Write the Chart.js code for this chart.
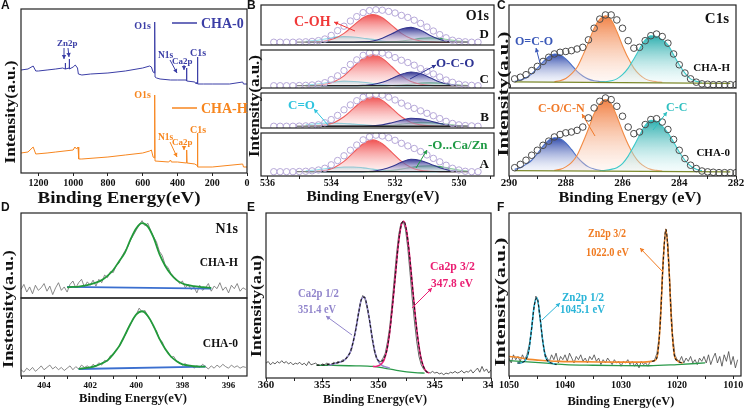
<!DOCTYPE html>
<html>
<head>
<meta charset="utf-8">
<script src="https://cdn.jsdelivr.net/npm/chart.js@4.4.1/dist/chart.umd.min.js"></script>
<style>
  html, body { margin: 0; padding: 0; background: #fff; }
  #wrap { position: relative; width: 745px; height: 408px; overflow: hidden; background: #fff; }
  .box { position: absolute; overflow: hidden; }
  #ov { position: absolute; left: 0; top: 0; z-index: 5; }
</style>
</head>
<body>
<div id="wrap">
  <svg id="ov" width="745" height="408" xmlns="http://www.w3.org/2000/svg"></svg>
</div>
<script>
const SERIF = '"Liberation Serif", "Times New Roman", serif';
const SANS = '"Liberation Sans", Arial, sans-serif';

// ---------- A: survey spectra ----------
const SURV_E_0 = [1300,1260,1230,1215,1200,1150,1100,1060,1046,1045,1044,1023,1022,1021,1000,988,975,970,950,900,800,700,600,560,550,540,533,531,529,520,500,440,400,350,348,346,300,292,287,285,283,250,200,100,25,20,0];
const SURV_0   = [103,104,107,102,102,103,104,105,104,110,104,105,114,104,106,108,105,99,98,99,100,102,105,107,106,101,100,151,96,95,94,93,93,93,105,92,91,89,91,116,89,89,89,89,91,89,89];
const SURV_E_H = [1300,1260,1230,1215,1150,1100,1000,990,980,972,968,950,800,700,600,560,550,540,533,531,529,450,440,435,400,349,347,345,300,292,287,285,283,200,25,20,0];
const SURV_H   = [20,21,26,19,20,21,23,26,24,26,14,14,16,18,20,22,23,16,15,78,12,11,13,11,11,10,23,10,9,8,8,40,6,6,9,6,6];
const A_TICKS = [1200,1000,800,600,400,200,0];

// ---------- B: O1s, four samples (D, C, B, A from top) ----------
const O1S_G = [534.8,534.5,534.2,533.9,533.6,533.3,533.0,532.7,532.4,532.1,531.8,531.5,531.2,530.9,530.6,530.3,530.0,529.7];
const O1S_ENV_E = [535.8,535.6,535.4,535.2,535.0,534.8,534.6,534.4,534.2,534.0,533.8,533.6,533.4,533.2,533.0,532.8,532.6,532.4,532.2,532.0,531.8,531.6,531.4,531.2,531.0,530.8,530.6,530.4,530.2,530.0,529.8,529.6,529.4];
const O1S_BASE_E = [535.1, 529.7];
const O1S_BASE = [0.07, 0.06, 0.05, 0.10];

const ENV_D = [.07,.07,.07,.07,.075,.08,.09,.11,.15,.24,.36,.47,.60,.71,.81,.86,.88,.87,.84,.80,.74,.69,.62,.54,.45,.35,.26,.18,.12,.09,.08,.07,.07];
const RED_D = [.07,.078,.10,.16,.29,.49,.68,.76,.68,.49,.29,.16,.10,.078,.07,.07,.07,.07];
const NAVY_D = [.07,.07,.07,.07,.07,.07,.08,.10,.17,.28,.40,.44,.37,.24,.14,.09,.075,.07];
const CYAN_D = [.09,.11,.15,.19,.21,.20,.17,.14,.10,.08,.07,.07,.07,.07,.07,.07,.07,.07];
const GREEN_D = [.07,.07,.07,.07,.07,.07,.07,.07,.07,.08,.10,.13,.165,.18,.165,.13,.10,.08];

const ENV_C = [.06,.06,.06,.06,.065,.07,.08,.10,.14,.22,.32,.46,.62,.74,.86,.92,.94,.92,.87,.80,.73,.67,.60,.51,.44,.37,.29,.21,.15,.10,.08,.07,.06];
const RED_C = [.06,.07,.10,.17,.32,.56,.78,.88,.78,.56,.32,.17,.10,.07,.06,.06,.06,.06];
const NAVY_C = [.06,.06,.06,.06,.06,.06,.07,.09,.15,.25,.36,.42,.38,.27,.16,.10,.07,.06];
const CYAN_C = [.08,.10,.13,.16,.18,.17,.15,.12,.09,.07,.06,.06,.06,.06,.06,.06,.06,.06];
const GREEN_C = [.06,.06,.06,.06,.06,.06,.06,.06,.06,.065,.08,.10,.13,.14,.13,.10,.08,.065];

const ENV_B = [.05,.05,.05,.05,.055,.06,.07,.09,.15,.24,.36,.52,.66,.78,.88,.94,.96,.94,.88,.80,.71,.63,.56,.49,.42,.35,.27,.19,.13,.09,.07,.06,.05];
const RED_B = [.05,.06,.09,.16,.32,.56,.79,.89,.79,.56,.32,.16,.09,.06,.05,.05,.05,.05];
const NAVY_B = [.05,.05,.05,.05,.05,.05,.05,.06,.09,.15,.22,.28,.26,.20,.13,.08,.06,.05];
const CYAN_B = [.09,.12,.14,.14,.13,.11,.09,.07,.06,.05,.05,.05,.05,.05,.05,.05,.05,.05];
const GREEN_B = [.05,.05,.05,.05,.05,.05,.05,.05,.06,.08,.11,.14,.16,.155,.13,.10,.07,.055];

const ENV_A = [.10,.10,.10,.10,.105,.11,.12,.14,.18,.26,.36,.47,.60,.72,.84,.91,.95,.93,.89,.83,.76,.70,.64,.57,.49,.41,.33,.25,.18,.14,.11,.10,.10];
const RED_A = [.10,.11,.13,.20,.34,.55,.75,.84,.75,.55,.34,.20,.13,.11,.10,.10,.10,.10];
const NAVY_A = [.10,.10,.10,.10,.10,.10,.10,.11,.15,.22,.32,.39,.36,.28,.19,.13,.11,.10];
const CYAN_A = [.12,.14,.17,.19,.21,.21,.19,.16,.13,.11,.10,.10,.10,.10,.10,.10,.10,.10];
const GREEN_A = [.10,.10,.10,.10,.10,.10,.10,.10,.11,.13,.16,.20,.23,.24,.22,.18,.14,.11];

const B_TICKS = [536,535,534,533,532,531,530,529];
const B_LABELS = [536,534,532,530];

// ---------- C: C1s ----------
const C1S_ENV_E = [289.8,289.6,289.4,289.2,289.0,288.8,288.6,288.4,288.2,288.0,287.8,287.6,287.4,287.2,287.0,286.8,286.6,286.4,286.2,286.0,285.8,285.6,285.4,285.2,285.0,284.8,284.6,284.4,284.2,284.0,283.8,283.6,283.4,283.2,283.0,282.8,282.6,282.4,282.2,282.0];
const ENV_H = [.11,.13,.16,.21,.26,.32,.37,.41,.43,.44,.45,.47,.49,.58,.72,.83,.88,.88,.82,.72,.57,.48,.49,.57,.63,.65,.62,.54,.41,.28,.18,.11,.07,.05,.045,.04,.04,.04,.04,.04];
const ENV_0 = [.10,.14,.19,.25,.31,.37,.42,.47,.50,.52,.53,.55,.59,.70,.82,.90,.94,.92,.84,.72,.59,.51,.53,.62,.68,.69,.65,.56,.44,.31,.21,.13,.09,.06,.05,.045,.04,.04,.04,.04];
const NAVY_C1S_E = [289.8,289.6,289.4,289.2,289.0,288.8,288.6,288.4,288.2,288.0,287.8,287.6,287.4,287.2,287.0,286.8,286.6];
const ORANGE_C1S_E = [288.4,288.2,288.0,287.8,287.6,287.4,287.2,287.0,286.8,286.6,286.4,286.2,286.0,285.8,285.6,285.4,285.2,285.0,284.8,284.6];
const CYAN_C1S_E = [286.8,286.6,286.4,286.2,286.0,285.8,285.6,285.4,285.2,285.0,284.8,284.6,284.4,284.2,284.0,283.8,283.6,283.4,283.2];
const NAVY_H = [.08,.096,.124,.17,.24,.315,.38,.41,.40,.35,.28,.20,.145,.107,.087,.078,.072];
const ORANGE_H = [.076,.088,.115,.17,.25,.39,.55,.72,.83,.87,.82,.68,.51,.36,.24,.16,.11,.087,.076,.07];
const CYAN_H = [.073,.076,.087,.11,.16,.24,.35,.47,.58,.63,.62,.58,.52,.40,.28,.18,.11,.08,.07];
const NAVY_0 = [.08,.10,.14,.19,.27,.36,.43,.46,.45,.40,.32,.23,.16,.11,.085,.07,.063];
const ORANGE_0 = [.068,.08,.11,.16,.25,.40,.57,.75,.87,.92,.87,.72,.54,.38,.25,.16,.11,.08,.068,.06];
const CYAN_0 = [.065,.07,.08,.10,.15,.24,.36,.49,.61,.67,.66,.60,.52,.41,.29,.19,.12,.08,.065];
const C1S_BASE_E = [289.8, 282.2];
const C1S_BASE_H = [.075, .055];
const C1S_BASE_0 = [.065, .05];
const C_TICKS = [290,289,288,287,286,285,284,283,282];
const C_LABELS = [290,288,286,284,282];

// ---------- D: N1s ----------
const N1S_START = 405.0, N1S_STEP = -0.125;
const N1S_RAW_H = [.10,.16,.07,.13,.05,.15,.09,.12,.17,.08,
  .14,.04,.12,.18,.09,.13,.07,.16,.20,.12,
  .18,.22,.13,.19,.15,.21,.14,.22,.18,.27,
  .24,.31,.30,.38,.41,.49,.55,.60,.68,.74,
  .80,.86,.91,.85,.88,.79,.72,.66,.55,.50,
  .39,.36,.29,.25,.22,.17,.20,.12,.16,.10,
  .13,.06,.15,.09,.12,.17,.08,.14,.11,.18,
  .09,.13,.06,.15,.11,.17,.08,.12,.10];
const N1S_RAW_0 = [.08,.05,.10,.07,.11,.06,.09,.13,.08,.11,
  .14,.09,.12,.08,.11,.07,.10,.13,.08,.12,
  .09,.14,.11,.13,.10,.15,.12,.17,.14,.20,
  .19,.26,.27,.34,.37,.45,.51,.60,.66,.74,
  .79,.87,.82,.84,.76,.71,.63,.58,.47,.44,
  .34,.31,.24,.25,.19,.17,.14,.16,.12,.14,
  .10,.13,.11,.15,.12,.09,.13,.10,.14,.11,
  .15,.12,.10,.14,.11,.13,.10,.12,.11];
const N1S_FIT_H_E = [403.0,402.75,402.5,402.25,402.0,401.75,401.5,401.25,401.0,400.75,400.5,400.25,400.0,399.75,399.5,399.25,399.0,398.75,398.5,398.25,398.0,397.75,397.5,397.25,397.0,396.75];
const N1S_FIT_H = [.125,.13,.135,.145,.16,.18,.21,.26,.33,.43,.53,.69,.82,.88,.84,.71,.52,.38,.28,.21,.17,.15,.14,.13,.125,.12];
const N1S_FIT_0_E = [402.5,402.25,402.0,401.75,401.5,401.25,401.0,400.75,400.5,400.25,400.0,399.75,399.5,399.25,399.0,398.75,398.5,398.25,398.0,397.75,397.5,397.25,397.0];
const N1S_FIT_0 = [.09,.10,.11,.13,.16,.20,.28,.38,.52,.67,.79,.83,.77,.64,.48,.35,.25,.19,.15,.135,.125,.12,.12];
const N1S_BL_H_E = [403.0, 396.75], N1S_BL_H = [.13, .11];
const N1S_BL_0_E = [402.5, 397.0], N1S_BL_0 = [.09, .12];
const D_TICKS = [405,404,403,402,401,400,399,398,397,396];
const D_LABELS = [404,402,400,398,396];

// ---------- E: Ca2p ----------
const CA_START = 360.0, CA_STEP = -0.2;
const CA_RAW = [.09,.10,.08,.095,.085,.10,.09,.105,.09,.10,
  .085,.095,.08,.09,.085,.095,.08,.09,.075,.10,
  .08,.085,.09,.08,.075,.085,.08,.09,.085,.08,
  .095,.09,.10,.095,.11,.11,.125,.14,.17,.23,
  .31,.39,.46,.50,.48,.42,.35,.25,.17,.12,
  .10,.10,.12,.15,.22,.31,.45,.60,.75,.87,
  .94,.95,.90,.79,.64,.48,.34,.22,.13,.08,
  .055,.04,.035,.03,.04,.03,.035,.025,.03,.02,
  .03,.025,.035,.03,.04,.03,.035,.045,.03,.04,
  .035,.05,.03,.045,.06,.035,.07,.04,.055,.03,
  .05];
const CA12_E = [354.5,354.25,354.0,353.75,353.5,353.25,353.0,352.75,352.5,352.25,352.0,351.75,351.5,351.25,351.0,350.75,350.5,350.25,350.0,349.75,349.5,349.25,349.0];
const CA12 = [.08,.08,.085,.09,.095,.10,.11,.13,.16,.22,.30,.40,.48,.49,.43,.33,.22,.14,.10,.08,.07,.065,.06];
const CA32_E = [350.5,350.25,350.0,349.75,349.5,349.25,349.0,348.75,348.5,348.25,348.0,347.75,347.5,347.25,347.0,346.75,346.5,346.25,346.0,345.75,345.5];
const CA32 = [.07,.07,.075,.085,.11,.17,.28,.44,.62,.80,.92,.95,.89,.75,.57,.39,.24,.13,.07,.04,.03];
const CA_ENV_E = [355.5,355.25,355.0,354.75,354.5,354.25,354.0,353.75,353.5,353.25,353.0,352.75,352.5,352.25,352.0,351.75,351.5,351.25,351.0,350.75,350.5,350.25,350.0,349.75,349.5,349.25,349.0,348.75,348.5,348.25,348.0,347.75,347.5,347.25,347.0,346.75,346.5,346.25,346.0,345.75,345.5];
const CA_ENV = [.078,.078,.079,.08,.082,.084,.087,.09,.095,.10,.11,.13,.16,.22,.30,.40,.48,.49,.43,.33,.22,.14,.105,.10,.12,.17,.28,.44,.62,.80,.92,.95,.89,.75,.57,.39,.24,.13,.07,.04,.03];
const CA_BG_E = [355.5,354,352,350.5,349.5,348.5,347.5,346.5,345.9];
const CA_BG = [.077,.076,.074,.07,.06,.048,.037,.031,.03];
const E_TICKS = [360,357.5,355,352.5,350,347.5,345,342.5,340];
const E_LABELS = [360,355,350,345,340];

// ---------- F: Zn2p ----------
const ZN_START = 1050.0, ZN_STEP = -0.4;
const ZN_RAW = [.11,.08,.13,.10,.12,.09,.13,.10,.13,.19,
  .28,.41,.49,.45,.34,.22,.14,.11,.09,.13,
  .10,.14,.08,.12,.10,.13,.09,.14,.11,.08,
  .12,.10,.13,.09,.11,.08,.12,.10,.13,.09,
  .11,.07,.10,.08,.11,.09,.07,.10,.08,.09,
  .06,.09,.08,.10,.07,.09,.06,.08,.05,.09,
  .07,.08,.06,.09,.09,.10,.14,.24,.50,.78,
  .90,.80,.50,.25,.13,.10,.09,.12,.08,.11,
  .09,.12,.08,.10,.07,.11,.09,.12,.08,.13,
  .07,.11,.14,.08,.12,.06,.13,.09,.15,.07,
  .12,.05,.10];
const ZN12_E = [1048.5,1048,1047.5,1047,1046.5,1046,1045.5,1045,1044.5,1044,1043.5,1043,1042.5,1042,1041.5];
const ZN12 = [.08,.08,.085,.10,.15,.28,.43,.48,.37,.22,.12,.09,.08,.075,.07];
const ZN32_E = [1050,1048.5,1047,1044,1041,1038,1034,1030,1026,1024.5,1024,1023.5,1023,1022.5,1022,1021.5,1021,1020.5,1020,1019.5,1019];
const ZN32 = [.12,.115,.105,.095,.09,.088,.086,.085,.085,.09,.095,.13,.33,.69,.90,.69,.33,.13,.095,.085,.08];
const ZN_BG_E = [1050,1046,1042,1040,1035,1030,1025,1020,1015];
const ZN_BG = [.094,.085,.075,.07,.066,.064,.063,.07,.08];
const F_TICKS = [1050,1045,1040,1035,1030,1025,1020,1015,1010];
const F_LABELS = [1050,1040,1030,1020,1010];

// ---------- helpers ----------
function grid(start, step, n) { return Array.from({ length: n }, (_, i) => +(start + i * step).toFixed(3)); }
function pts(xs, ys) { return xs.map((x, i) => ({ x, y: ys[i] })); }

function grad(c1, c2, top, base) {
    return ctx => {
        const ch = ctx.chart;
        if (!ch.chartArea) return c2;
        const y = ch.scales.y;
        const g = ch.ctx.createLinearGradient(0, y.getPixelForValue(top), 0, y.getPixelForValue(base));
        g.addColorStop(0, c1);
        g.addColorStop(1, c2);
        return g;
    };
}

function ln(xs, ys, color, width, extra) {
    return Object.assign({ data: pts(xs, ys), borderColor: color, borderWidth: width, fill: false, pointRadius: 0 }, extra || {});
}
function peak(xs, ys, base, line, c1, c2) {
    return ln(xs, ys, line, 1.1, {
        fill: { value: base }, cubicInterpolationMode: 'monotone',
        backgroundColor: grad(c1, c2, Math.max(...ys), base),
    });
}
function circles(xs, ys, color, r, fillc) {
    return { data: pts(xs, ys), showLine: false, pointRadius: r, pointBorderWidth: 1, pointBorderColor: color, pointBackgroundColor: fillc };
}

const framePlugin = {
    id: 'frame',
    afterDatasetsDraw(ch) {
        const a = ch.chartArea, c = ch.ctx;
        c.save();
        c.strokeStyle = '#222';
        c.lineWidth = 1.2;
        c.strokeRect(a.left, a.top, a.right - a.left, a.bottom - a.top);
        c.restore();
    }
};

const PAD = 22, TOP = 3;
function panel(area, xr, yr, datasets, axis, clip) {
    const [l, t, r, b] = area;
    const bot = axis ? axis.h : 2;
    const w = r - l + 2 * PAD, h = b - t + TOP + bot;
    const box = document.createElement('div');
    box.className = 'box';
    box.style.cssText = `left:${l - PAD}px;top:${t - TOP}px;width:${clip ? (r - l + PAD + clip) : w}px;height:${h}px`;
    const cv = document.createElement('canvas');
    cv.width = w; cv.height = h;
    box.appendChild(cv);
    document.getElementById('wrap').appendChild(box);

    const x = { type: 'linear', reverse: true, min: xr[0], max: xr[1], display: !!axis };
    if (axis) Object.assign(x, {
        grid: { drawOnChartArea: false, tickLength: 3, color: '#222', lineWidth: 1 },
        border: { display: false },
        ticks: {
            autoSkip: false, maxRotation: 0, padding: axis.pad, color: '#111',
            font: { family: SERIF, weight: 'bold', size: axis.size },
            callback: v => axis.labels.includes(v) ? String(v) : '',
        },
        afterBuildTicks: s => { s.ticks = axis.ticks.map(v => ({ value: v })); },
        afterFit: s => { s.height = axis.h; },
    });

    return new Chart(cv, {
        type: 'line',
        data: { datasets },
        options: {
            responsive: false, animation: false, events: [],
            layout: { padding: { left: PAD, right: PAD, top: TOP, bottom: axis ? 0 : bot } },
            plugins: { legend: { display: false }, tooltip: { enabled: false } },
            elements: { point: { radius: 0 }, line: { borderJoinStyle: 'round' } },
            scales: { x, y: { display: false, min: yr[0], max: yr[1] } },
        },
        plugins: [framePlugin],
    });
}

// ---------- A ----------
const BLUE = '#3b3ea6', ORANGE = '#f7861f';
panel([21, 9, 247, 173], [0, 1300], [0, 164], [
    ln(SURV_E_0, SURV_0, BLUE, 1),
    ln(SURV_E_H, SURV_H, ORANGE, 1),
], { ticks: A_TICKS, labels: A_TICKS, size: 10, pad: 1, h: 18 });

// ---------- B ----------
const B_ROWS = [[3, 48], [48, 91], [91, 131], [131, 176]];
const B_SETS = [
    [ENV_D, RED_D, NAVY_D, CYAN_D, GREEN_D],
    [ENV_C, RED_C, NAVY_C, CYAN_C, GREEN_C],
    [ENV_B, RED_B, NAVY_B, CYAN_B, GREEN_B],
    [ENV_A, RED_A, NAVY_A, CYAN_A, GREEN_A],
];
B_SETS.forEach(([env, red, navy, cyan, green], i) => {
    const base = O1S_BASE[i];
    panel([261, B_ROWS[i][0], 494, B_ROWS[i][1]], [528.9, 536.2], [0, 1], [
        circles(O1S_ENV_E, env, '#b6a8d8', 3.2, 'rgba(255,255,255,0.45)'),
        ln(O1S_BASE_E, [base, base], '#222', 1.3),
        peak(O1S_G, navy, base, '#34368f', 'rgba(36,38,138,0.95)', 'rgba(205,205,236,0.35)'),
        peak(O1S_G, red, base, '#ef5b5b', 'rgba(238,62,62,0.9)', 'rgba(255,226,226,0.4)'),
        peak(O1S_G, green, base, '#38a35a', 'rgba(40,160,80,0.75)', 'rgba(220,240,225,0.3)'),
        peak(O1S_G, cyan, base, '#3cc6dc', 'rgba(60,200,220,0.6)', 'rgba(225,246,250,0.3)'),
    ], i === 3 ? { ticks: B_TICKS, labels: B_LABELS, size: 10, pad: -2, h: 16 } : null);
});

// ---------- C ----------
const C_ROWS = [[3, 91], [91, 176]];
const C_SETS = [
    [ENV_H, NAVY_H, ORANGE_H, CYAN_H, C1S_BASE_H],
    [ENV_0, NAVY_0, ORANGE_0, CYAN_0, C1S_BASE_0],
];
C_SETS.forEach(([env, navy, orange, cyan, bl], i) => {
    const base = bl[0] - 0.005;
    panel([509, C_ROWS[i][0], 736, C_ROWS[i][1]], [282, 290], [0, 1], [
        circles(C1S_ENV_E, env, '#4a4a4a', 3.3, 'rgba(255,255,255,0)'),
        ln(C1S_BASE_E, bl, '#7d8a2c', 1.3),
        peak(CYAN_C1S_E, cyan, base, '#3cc9c9', 'rgba(28,168,168,0.92)', 'rgba(222,246,246,0.3)'),
        peak(ORANGE_C1S_E, orange, base, '#f28b45', 'rgba(240,118,52,0.92)', 'rgba(253,232,222,0.3)'),
        peak(NAVY_C1S_E, navy, base, '#4a6fc8', 'rgba(38,66,168,0.95)', 'rgba(222,228,246,0.3)'),
    ], i === 1 ? { ticks: C_TICKS, labels: C_LABELS, size: 11, pad: -2, h: 17 } : null);
});

// ---------- D ----------
const N1S_E = grid(N1S_START, N1S_STEP, N1S_RAW_H.length);
panel([21, 213, 247, 298], [395.2, 405], [0, 1], [
    ln(N1S_FIT_H_E, N1S_FIT_H, '#229a3a', 1.8, { cubicInterpolationMode: 'monotone' }),
    ln(N1S_BL_H_E, N1S_BL_H, '#3b6fcf', 1.8),
    ln(N1S_E, N1S_RAW_H, '#6d6d6d', 0.8),
], null);
panel([21, 298, 247, 376], [395.2, 405], [0, 1], [
    ln(N1S_FIT_0_E, N1S_FIT_0, '#229a3a', 1.8, { cubicInterpolationMode: 'monotone' }),
    ln(N1S_BL_0_E, N1S_BL_0, '#3b6fcf', 1.8),
    ln(N1S_E, N1S_RAW_0, '#6d6d6d', 0.8),
], { ticks: D_TICKS, labels: D_LABELS, size: 9, pad: 1, h: 16 });

// ---------- E ----------
const CA_E = grid(CA_START, CA_STEP, CA_RAW.length);
panel([266, 213, 491, 378], [340, 360], [0, 1], [
    ln(CA_ENV_E, CA_ENV, '#1a1a1a', 1.1, { borderDash: [3, 2], cubicInterpolationMode: 'monotone' }),
    ln(CA32_E, CA32, '#ec1e79', 1.6, { cubicInterpolationMode: 'monotone' }),
    ln(CA12_E, CA12, '#9a8ed0', 1.6, { cubicInterpolationMode: 'monotone' }),
    ln(CA_BG_E, CA_BG, '#2a9a4a', 1.3, { cubicInterpolationMode: 'monotone' }),
    ln(CA_E, CA_RAW, '#3a3a3a', 0.8),
], { ticks: E_TICKS, labels: E_LABELS, size: 11, pad: -2, h: 17 }, 2);

// ---------- F ----------
const ZN_E = grid(ZN_START, ZN_STEP, ZN_RAW.length);
panel([509, 213, 741, 376], [1008.6, 1050], [0, 1], [
    ln(ZN12_E, ZN12, '#1a1a1a', 1.1, { borderDash: [3, 2], cubicInterpolationMode: 'monotone' }),
    ln(ZN32_E.slice(9), ZN32.slice(9), '#1a1a1a', 1.1, { borderDash: [3, 2], cubicInterpolationMode: 'monotone' }),
    ln(ZN12_E, ZN12, '#35b9d9', 1.6, { cubicInterpolationMode: 'monotone' }),
    ln(ZN32_E, ZN32, '#f38a2c', 1.6, { cubicInterpolationMode: 'monotone' }),
    ln(ZN_BG_E, ZN_BG, '#2a9a4a', 1.3, { cubicInterpolationMode: 'monotone' }),
    ln(ZN_E, ZN_RAW, '#454545', 0.8),
], { ticks: F_TICKS, labels: F_LABELS, size: 10, pad: 0, h: 16 });

// ---------- overlay text and arrows ----------
const svg = document.getElementById('ov');
const NS = 'http://www.w3.org/2000/svg';
function txt(s, x, y, size, color, anchor, len, family, rot) {
    const t = document.createElementNS(NS, 'text');
    t.setAttribute('x', x); t.setAttribute('y', y);
    t.setAttribute('font-family', family || SERIF);
    t.setAttribute('font-weight', 'bold');
    t.setAttribute('font-size', size);
    t.setAttribute('fill', color);
    t.setAttribute('text-anchor', anchor);
    t.setAttribute('dominant-baseline', 'central');
    if (len) { t.setAttribute('textLength', len); t.setAttribute('lengthAdjust', 'spacingAndGlyphs'); }
    if (rot) t.setAttribute('transform', `rotate(-90 ${x} ${y})`);
    t.textContent = s;
    svg.appendChild(t);
}
function arrow(x1, y1, x2, y2, color) {
    const l = document.createElementNS(NS, 'line');
    l.setAttribute('x1', x1); l.setAttribute('y1', y1); l.setAttribute('x2', x2); l.setAttribute('y2', y2);
    l.setAttribute('stroke', color); l.setAttribute('stroke-width', 1);
    svg.appendChild(l);
    const a = Math.atan2(y2 - y1, x2 - x1), L = 4, W = 2.2;
    const bx = x2 - L * Math.cos(a), by = y2 - L * Math.sin(a);
    const p = document.createElementNS(NS, 'polygon');
    p.setAttribute('points', `${x2},${y2} ${bx - W * Math.sin(a)},${by + W * Math.cos(a)} ${bx + W * Math.sin(a)},${by - W * Math.cos(a)}`);
    p.setAttribute('fill', color);
    svg.appendChild(p);
}

// legend lines in A
[[23, BLUE], [108, ORANGE]].forEach(([y, c]) => {
    const l = document.createElementNS(NS, 'line');
    l.setAttribute('x1', 172); l.setAttribute('x2', 197); l.setAttribute('y1', y); l.setAttribute('y2', y);
    l.setAttribute('stroke', c); l.setAttribute('stroke-width', 1.5);
    svg.appendChild(l);
});

const NOTES = [
    ['O1s', 151, 25, 10, BLUE, 'end'],
    ['CHA-0', 201, 23, 14, BLUE, 'start'],
    ['Zn2p', 57, 43, 9, BLUE, 'start'],
    ['N1s', 158, 55, 9.5, BLUE, 'start'],
    ['Ca2p', 172, 61, 9, BLUE, 'start'],
    ['C1s', 190, 52, 10, BLUE, 'start'],
    ['O1s', 151, 94, 10, ORANGE, 'end'],
    ['CHA-H', 201, 108, 14, ORANGE, 'start'],
    ['N1s', 158, 137, 9.5, ORANGE, 'start'],
    ['Ca2p', 172, 142, 9, ORANGE, 'start'],
    ['C1s', 190, 129, 10, ORANGE, 'start'],
    ['C-OH', 294, 21, 14, '#f03838', 'start'],
    ['O1s', 489, 15, 14, '#111', 'end'],
    ['D', 489, 33, 13, '#111', 'end'],
    ['O-C-O', 436, 62, 13, '#2e3494', 'start'],
    ['C', 489, 78, 13, '#111', 'end'],
    ['C=O', 288, 104, 13, '#30c4de', 'start'],
    ['B', 489, 116, 13, '#111', 'end'],
    ['-O...Ca/Zn', 428, 144, 13, '#1f9a45', 'start'],
    ['A', 489, 163, 13, '#111', 'end'],
    ['C1s', 729, 18, 15, '#111', 'end'],
    ['O=C-O', 515, 41, 12, '#3a58b8', 'start'],
    ['CHA-H', 730, 67, 11, '#111', 'end'],
    ['C-O/C-N', 538, 108, 12, '#f07a2a', 'start'],
    ['C-C', 666, 107, 12, '#2fbfc0', 'start'],
    ['CHA-0', 730, 152, 11, '#111', 'end'],
    ['N1s', 238, 228, 14, '#111', 'end'],
    ['CHA-H', 238, 262, 11.5, '#111', 'end'],
    ['CHA-0', 238, 343, 11.5, '#111', 'end'],
    ['Ca2p 1/2', 298, 292, 13, '#9286cc', 'start', 41],
    ['351.4 eV', 298, 308, 13, '#9286cc', 'start', 38],
    ['Ca2p 3/2', 430, 265, 13, '#ea1f73', 'start', 45],
    ['347.8 eV', 431, 282, 13, '#ea1f73', 'start', 42],
    ['Zn2p 3/2', 588, 233, 12.5, '#f07b22', 'start', 38],
    ['1022.0 eV', 586, 252, 12.5, '#f07b22', 'start', 43],
    ['Zn2p 1/2', 562, 297, 12.5, '#2bb5d8', 'start', 42],
    ['1045.1 eV', 560, 309, 12.5, '#2bb5d8', 'start', 45],
];
NOTES.forEach(n => txt(n[0], n[1], n[2], n[3], n[4], n[5], n[6]));

const ARROWS = [
    [64, 48, 64, 59, BLUE], [68, 48, 69, 57, BLUE], [170, 60, 177, 73, BLUE], [184, 65, 184, 70, BLUE],
    [170, 142, 177, 157, ORANGE], [184, 147, 184, 150, ORANGE],
    [355, 31, 334, 22, '#f03838'], [410, 79, 436, 65, '#2e3494'], [328, 125, 314, 109, '#30c4de'], [416, 168, 427, 150, '#1f9a45'],
    [540, 63, 536, 48, '#3a58b8'], [595, 136, 582, 114, '#f07a2a'], [653, 130, 667, 112, '#2fbfc0'],
    [352, 335, 326, 316, '#9286cc'], [412, 308, 432, 288, '#ea1f73'],
    [663, 272, 640, 248, '#f07b22'], [542, 320, 560, 303, '#2bb5d8'],
];
ARROWS.forEach(a => arrow(...a));

// axis titles
const X_TITLES = [
    ['Binding Energy(eV)', 119, 197, 17, 163],
    ['Binding Energy(eV)', 373, 196, 14, 133],
    ['Binding Energy (eV)', 630, 197, 15, 143],
    ['Binding Energy(eV)', 133, 397, 13, 108],
    ['Binding Energy(eV)', 375, 398, 13, 104],
    ['Binding Energy(eV)', 621, 400, 13, 107],
];
X_TITLES.forEach(t => txt(t[0], t[1], t[2], t[3], '#111', 'middle', t[4]));
const Y_TITLES = [
    ['Intensity(a.u.)', 10, 112, 15, 103],
    ['Intensity(a.u.)', 254, 106, 14, 102],
    ['Intensity(a.u.)', 502.5, 94, 15, 125],
    ['Instensity(a.u.)', 8, 309, 14, 118],
    ['Intensity(a.u)', 256, 306, 14, 102],
    ['Intensity(a.u.)', 500, 302, 15, 129],
];
Y_TITLES.forEach(t => txt(t[0], t[1], t[2], t[3], '#111', 'middle', t[4], SERIF, true));

[['A', 1, 5], ['B', 247, 5], ['C', 497, 5], ['D', 1, 207], ['E', 247, 207], ['F', 497, 207]]
    .forEach(([s, x, y]) => txt(s, x, y, 12, '#111', 'start', null, SANS));
</script>
</body>
</html>
